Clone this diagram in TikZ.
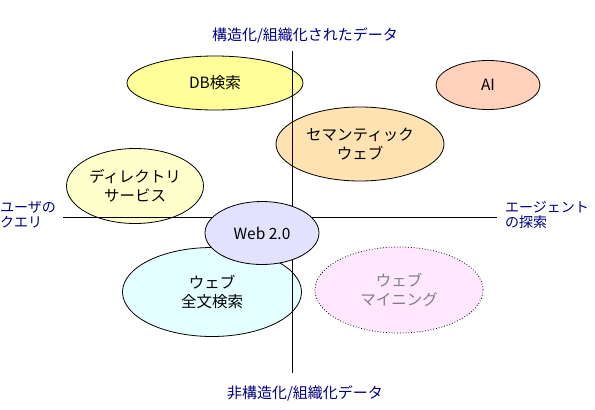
\documentclass[tikz,border=0pt]{standalone}
\usepackage{fontspec}
\setmainfont{Noto Sans CJK JP}
\usetikzlibrary{shapes.geometric}
\definecolor{azuleje}{RGB}{0,0,128}
\definecolor{amarillo}{RGB}{255,255,153}
\definecolor{amarilloclaro}{RGB}{255,255,204}
\definecolor{salmon}{RGB}{255,208,186}
\definecolor{naranja}{RGB}{255,226,178}
\definecolor{lavanda}{RGB}{226,226,255}
\definecolor{celeste}{RGB}{228,255,255}
\definecolor{rosa}{RGB}{255,232,255}
\begin{document}
\begin{tikzpicture}[x=1pt,y=-1pt,
    burbuja/.style={ellipse,draw=black,line width=0.8pt,inner sep=0pt,align=center,
        font=\fontsize{15.5}{19}\selectfont},
    rotulo/.style={text=azuleje,inner sep=0pt,font=\fontsize{15}{15.5}\selectfont},
    lateral/.style={rotulo,anchor=west,align=left,font=\fontsize{14}{15.5}\selectfont}]
\useasboundingbox (0,0) rectangle (595,410);

    %Burbujas de fondo
    \node[burbuja,fill=amarillo,minimum width=176,minimum height=54] (db) at (215,83) {DB検索};
    \node[burbuja,fill=salmon,minimum width=104,minimum height=49] (ai) at (488,85) {AI};
    \node[burbuja,fill=naranja,minimum width=168,minimum height=74] (sem) at (360,144) {セマンティック\\ウェブ};
    \node[burbuja,fill=amarilloclaro,minimum width=137,minimum height=75] (dir) at (135,186) {ディレクトリ\\サービス};
    \node[burbuja,fill=celeste,minimum width=179,minimum height=89] (full) at (212,292) {ウェブ\\全文検索};
    \node[burbuja,fill=rosa,draw=black,dotted,text=gray,minimum width=168,minimum height=86] (mining) at (399,290) {ウェブ\\マイニング};

    %Ejes
    \coordinate (ejeN) at (292,51);
    \coordinate (ejeS) at (292,373);
    \coordinate (ejeO) at (63,217);
    \coordinate (ejeE) at (497,217);
    \draw[line width=0.8pt] (ejeN) -- (ejeS);
    \draw[line width=0.8pt] (ejeO) -- (ejeE);

    %Web 2.0 encima de los ejes
    \node[burbuja,fill=lavanda,minimum width=114,minimum height=63] (web) at (262,233) {Web 2.0};

    %Rotulos de los ejes
    \node[rotulo] (arriba) at (305,35) {構造化/組織化されたデータ};
    \node[rotulo] (abajo) at (305,393) {非構造化/組織化データ};
    \node[lateral] (izq) at (0,215) {ユーザの\\クエリ};
    \node[lateral] (der) at (505,215) {エージェント\\の探索};
\end{tikzpicture}
\end{document}
